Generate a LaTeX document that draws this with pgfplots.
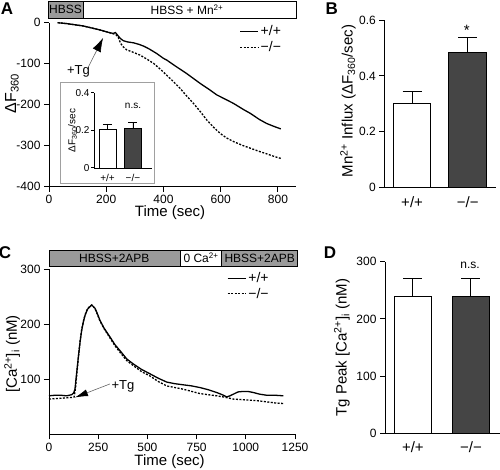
\documentclass[border=0pt]{standalone}
\usepackage{fontspec}
\setmainfont{Liberation Sans}
\usepackage{pgfplots}
\pgfplotsset{compat=1.18}
\usetikzlibrary{arrows.meta}
\definecolor{darkbar}{HTML}{454545}
\definecolor{graybar}{HTML}{9A9A9A}
\definecolor{insetframe}{HTML}{A0A0A0}
\newcommand{\fs}[1]{\fontsize{#1}{#1}\selectfont}
\pgfplotsset{
  base/.style={
    scale only axis,
    axis x line*=bottom, axis y line*=left,
    axis line style={line width=1pt},
    tick align=outside, major tick length=5pt,
    every tick/.style={black, line width=1pt},
    tick label style={font=\fs{12}},
    label style={font=\fs{15}},
    /pgf/number format/assume math mode=true,
    /pgf/number format/1000 sep={},
    clip=false,
  },
  barax/.style={
    base,
    xtick={0,1}, xticklabels={+/+,−/−},
    x tick label style={font=\fs{15}},
    major x tick style={draw=none},
    error bars/error bar style={line width=1pt, black},
    error bars/error mark options={rotate=90, mark size=9.5pt, line width=1pt, black},
  },
  leg/.style={
    legend style={draw=none, fill=none, font=\fs{14}, inner sep=0pt, row sep=0pt,
      /tikz/every even column/.append style={column sep=3pt}},
    legend cell align=left,
    legend image code/.code={\draw[##1] (0pt,0pt) -- (18pt,0pt);},
  },
}
\begin{document}
\begin{tikzpicture}
\path[use as bounding box] (0,0) rectangle (500pt,-470pt);

% ---------------- Panel A ----------------
\begin{axis}[base, leg, at={(49pt,-186.7pt)}, anchor=south west,
  width=247pt, height=164pt,
  xmin=0, xmax=863, ymin=-400, ymax=0,
  xtick={0,200,400,600,800}, ytick={-400,-300,-200,-100,0},
  xlabel={Time (sec)},
  xlabel style={at={(axis description cs:0.49,-0.16)}, anchor=center},
  ylabel={ΔF\textsubscript{360}},
  ylabel style={at={(axis description cs:-0.15,0.57)}, anchor=center, font=\fs{16}},
  legend style={at={(axis description cs:0.77,0.995)}, anchor=north west},
]
\addplot[black, line width=1.3pt] coordinates {
(30,0)(60,-2)(90,-5)(120,-8)(150,-13)(180,-18)(200,-22)(215,-25)(225,-26)(232,-24)(238,-29)(245,-35)(252,-40)(260,-44)(275,-47)(295,-49)(315,-53)(330,-57)(350,-64)(376,-75)(400,-87)(411,-91)(440,-105)(481,-124)(528,-148)(560,-163)(586,-176)(620,-188)(645,-197)(680,-212)(703,-221)(735,-236)(761,-246)(790,-254)(810,-259)};
\addlegendentry{+/+}
\addplot[black, line width=1.3pt, dash pattern=on 2pt off 1.5pt] coordinates {
(30,0)(60,-2)(90,-5)(120,-8)(150,-13)(180,-18)(200,-22)(215,-25)(225,-27)(235,-30)(242,-36)(250,-50)(258,-58)(271,-66)(290,-71)(318,-79)(340,-88)(365,-99)(390,-114)(411,-128)(435,-144)(458,-160)(480,-178)(505,-197)(530,-218)(551,-237)(575,-255)(598,-270)(620,-281)(645,-290)(675,-299)(703,-306)(735,-314)(761,-320)(790,-327)(810,-331)};
\addlegendentry{−/−}
\draw[gray!80!black, line width=0.6pt, -{Latex[length=14pt,width=9pt,color=black]}] (axis cs:136,-110) -- (axis cs:189,-37);
\node[font=\fs{13}] at (axis cs:103,-119.5) {+Tg};
\end{axis}
% top bar A
\draw[line width=0.8pt, fill=graybar] (48pt,-1pt) rectangle (83pt,-18.3pt);
\draw[line width=0.8pt, fill=white] (83pt,-1pt) rectangle (296pt,-18.3pt);
\node[font=\fs{12}] at (65.5pt,-9.8pt) {HBSS};
\node[font=\fs{12}] at (187pt,-9.8pt) {HBSS + Mn\textsuperscript{2+}};
% inset
\draw[insetframe, line width=0.8pt, fill=white] (60pt,-82pt) rectangle (154pt,-183pt);
\begin{axis}[base, at={(94pt,-168pt)}, anchor=south west,
  width=58pt, height=75pt,
  xmin=-0.53, xmax=1.75, ymin=0, ymax=0.4,
  ytick={0,0.2,0.4}, xtick={0,1}, xticklabels={+/+,−/−},
  major x tick style={draw=none},
  axis line style={line width=0.8pt}, major tick length=3pt,
  tick label style={font=\fs{10}},
  y tick label style={xshift=2pt},
  ylabel={ΔF\textsubscript{360}/sec},
  ylabel style={at={(axis description cs:-0.37,0.5)}, anchor=center, font=\fs{10}},
  error bars/error bar style={line width=0.8pt, black},
  error bars/error mark options={rotate=90, mark size=4.5pt, line width=0.8pt, black},
]
\addplot[ybar, bar width=0.67, fill=white, draw=black, line width=0.8pt,
  error bars/.cd, y dir=plus, y explicit] coordinates {(0,0.208) +- (0,0.027)};
\addplot[ybar, bar width=0.67, fill=darkbar, draw=black, line width=0.8pt,
  error bars/.cd, y dir=plus, y explicit] coordinates {(1,0.213) +- (0,0.030)};
\end{axis}
\node[font=\fs{10}] at (133pt,-106pt) {n.s.};
\node[font=\fs{17}\bfseries] at (7pt,-8.5pt) {A};

% ---------------- Panel B ----------------
\begin{axis}[barax, at={(384.3pt,-187.7pt)}, anchor=south west,
  width=111.7pt, height=167.7pt,
  xmin=-0.5, xmax=1.51, ymin=0, ymax=0.6,
  ytick={0,0.2,0.4,0.6},
  ylabel={Mn\textsuperscript{2+} Influx (ΔF\textsubscript{360}/sec)},
  ylabel style={at={(axis description cs:-0.325,0.517)}, anchor=center},
]
\addplot[ybar, bar width=0.68, fill=white, draw=black, line width=1pt,
  error bars/.cd, y dir=plus, y explicit] coordinates {(0,0.302) +- (0,0.041)};
\addplot[ybar, bar width=0.68, fill=darkbar, draw=black, line width=1pt,
  error bars/.cd, y dir=plus, y explicit] coordinates {(1,0.483) +- (0,0.054)};
\end{axis}
\node[font=\fs{15}] at (466.7pt,-30pt) {*};
\node[font=\fs{17}\bfseries] at (331.7pt,-8.5pt) {B};

% ---------------- Panel C ----------------
\begin{axis}[base, leg, at={(49pt,-434.3pt)}, anchor=south west,
  width=246pt, height=165pt,
  xmin=0, xmax=1250, ymin=0, ymax=300,
  xtick={0,250,500,750,1000,1250}, ytick={100,200,300},
  xlabel={Time (sec)},
  xlabel style={at={(axis description cs:0.49,-0.168)}, anchor=center},
  ylabel={[Ca\textsuperscript{2+}]\textsubscript{i} (nM)},
  ylabel style={at={(axis description cs:-0.15,0.487)}, anchor=center},
  legend style={at={(axis description cs:0.723,0.995)}, anchor=north west},
]
\addplot[black, line width=1.3pt] coordinates {
(0,70)(30,71)(60,71)(90,70)(115,72)(125,75)(132,82)(140,110)(149,140)(158,168)(166,189)(175,205)(183,216)(195,227)(208,232)(217,235)(226,232)(234,229)(245,220)(259,207)(280,193)(310,177)(335,163)(361,152)(395,137)(428,128)(470,118)(513,110)(555,102)(598,95)(640,92)(682,90)(725,88)(767,85)(810,81)(852,76)(880,72)(903,68)(920,70)(937,73)(960,77)(987,78)(1010,78)(1038,76)(1070,73)(1106,71)(1150,71)(1191,70)};
\addlegendentry{+/+}
\addplot[black, line width=1.3pt, dash pattern=on 2pt off 1.5pt] coordinates {
(0,64)(40,65)(80,66)(115,67)(128,68)(135,85)(142,112)(150,142)(158,170)(166,190)(175,206)(183,217)(195,228)(208,233)(217,235)(226,232)(234,228)(245,219)(259,206)(280,192)(310,175)(335,161)(361,149)(395,134)(428,125)(470,114)(513,106)(555,96)(598,88)(640,85)(682,82)(725,78)(767,74)(810,72)(852,70)(900,67)(937,64)(980,63)(1021,62)(1060,61)(1106,59)(1150,57)(1191,56)};
\addlegendentry{−/−}
\draw[gray!80!black, line width=0.6pt, -{Latex[length=13pt,width=7pt,color=black]}] (axis cs:310,91.6) -- (axis cs:132,67);
\node[font=\fs{13}, anchor=west] at (axis cs:300,87) {+Tg};
\end{axis}
% top bar C
\draw[line width=0.8pt, fill=graybar] (49pt,-250pt) rectangle (180pt,-266pt);
\draw[line width=0.8pt, fill=white] (180pt,-250pt) rectangle (221.7pt,-266pt);
\draw[line width=0.8pt, fill=graybar] (221.7pt,-250pt) rectangle (297.7pt,-266pt);
\node[font=\fs{12}] at (114.3pt,-258pt) {HBSS+2APB};
\node[font=\fs{12}] at (201pt,-258pt) {0 Ca\textsuperscript{2+}};
\node[font=\fs{12}] at (259.7pt,-258pt) {HBSS+2APB};
\node[font=\fs{17}\bfseries] at (5pt,-253pt) {C};

% ---------------- Panel D ----------------
\begin{axis}[barax, at={(385pt,-433.3pt)}, anchor=south west,
  width=115pt, height=171.6pt,
  xmin=-0.48, xmax=1.5, ymin=0, ymax=300,
  ytick={0,100,200,300},
  ylabel={Tg Peak [Ca\textsuperscript{2+}]\textsubscript{i} (nM)},
  ylabel style={at={(axis description cs:-0.374,0.5)}, anchor=center},
]
\addplot[ybar, bar width=0.65, fill=white, draw=black, line width=1pt,
  error bars/.cd, y dir=plus, y explicit] coordinates {(0,239) +- (0,32)};
\addplot[ybar, bar width=0.65, fill=darkbar, draw=black, line width=1pt,
  error bars/.cd, y dir=plus, y explicit] coordinates {(1,240) +- (0,30)};
\end{axis}
\node[font=\fs{12}] at (470pt,-265pt) {n.s.};
\node[font=\fs{17}\bfseries] at (330pt,-253pt) {D};
\end{tikzpicture}
\end{document}
